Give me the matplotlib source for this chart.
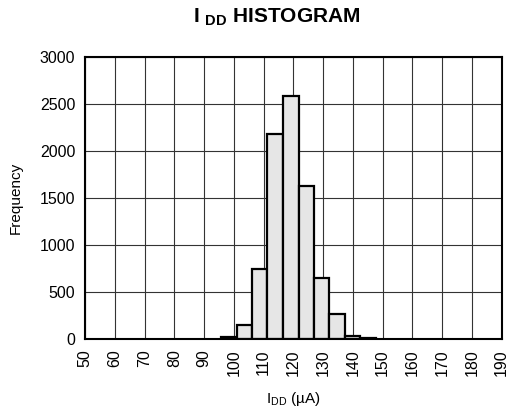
import numpy as np
import matplotlib
matplotlib.use("Agg")
import matplotlib.pyplot as plt

plt.rcParams['font.family'] = ['Liberation Sans', 'DejaVu Sans']
plt.rcParams['mathtext.fontset'] = 'custom'
plt.rcParams['mathtext.rm'] = 'Liberation Sans'
plt.rcParams['mathtext.bf'] = 'Liberation Sans:bold'

# bin edges (uA) and counts
bin_edges = [95.7, 101.0, 106.1, 111.3, 116.4, 121.8, 126.9, 132.1, 137.2, 142.4, 147.9]
counts = [20, 150, 750, 2180, 2590, 1630, 655, 270, 40, 15]

x_ticks = list(range(50, 191, 10))
y_ticks = list(range(0, 3001, 500))

fig = plt.figure(figsize=(5.08, 4.12), dpi=100)
ax = fig.add_axes([85 / 508, 72.7 / 412, 416.7 / 508, 282 / 412])

widths = np.diff(bin_edges)
ax.bar(bin_edges[:-1], counts, width=widths, align='edge',
       facecolor='#e6e6e6', edgecolor='black', linewidth=1.6, zorder=3)

ax.set_xlim(50, 190)
ax.set_ylim(0, 3000)
ax.set_xticks(x_ticks)
ax.set_yticks(y_ticks)
ax.set_xticklabels([str(t) for t in x_ticks], rotation=90)
ax.tick_params(length=0, labelsize=11.5, pad=7)
ax.grid(True, color='#333333', linewidth=0.8, zorder=0)
for s in ax.spines.values():
    s.set_linewidth(1.5)
    s.set_zorder(4)

ax.set_ylabel("Frequency", fontsize=11, labelpad=12)
ax.set_xlabel("I$_{\\mathrm{DD}}$ (µA)", fontsize=11, labelpad=10)

fig.text(277 / 508, 1 - 17 / 412, r"I $_{\mathbf{DD}}$ HISTOGRAM",
         ha='center', va='center', fontsize=15, fontweight='bold')

fig.savefig("out.png", dpi=100)
